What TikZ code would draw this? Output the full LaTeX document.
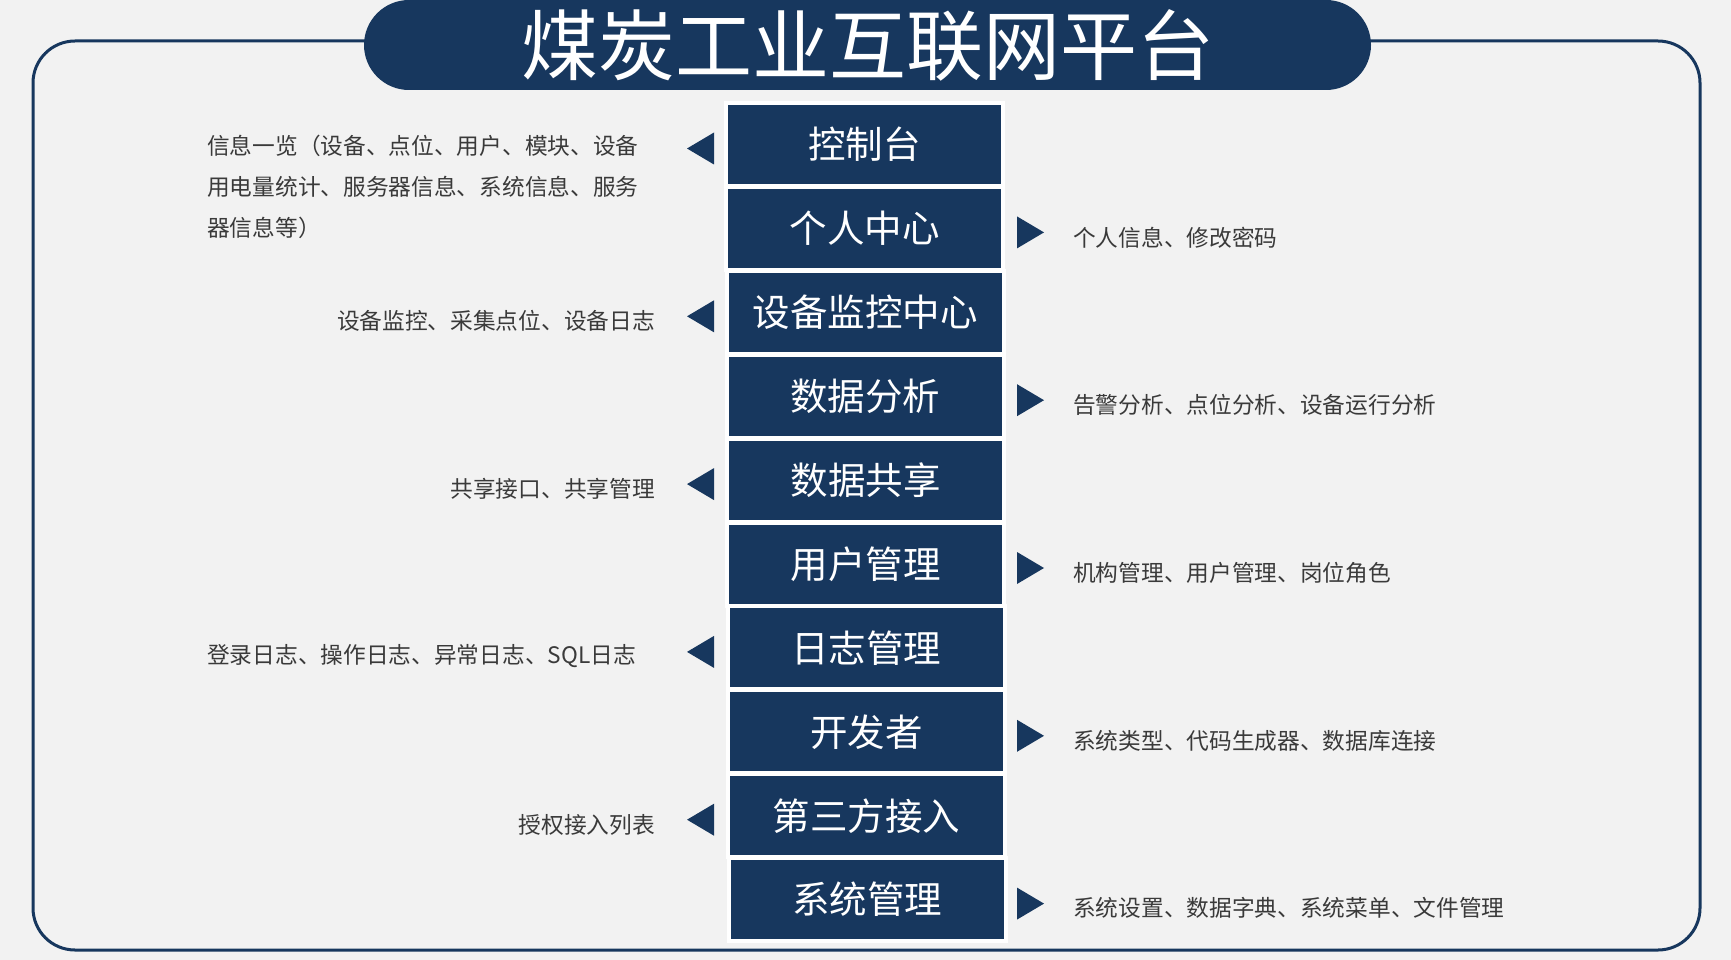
\documentclass[tikz,border=0pt]{standalone}
\usepackage{fontspec}
\setmainfont{Noto Sans CJK SC}
\definecolor{navy}{HTML}{17375E}
\definecolor{paper}{HTML}{F2F2F2}
\definecolor{note}{HTML}{3A3A3A}
\tikzset{
  module/.style={fill=navy, draw=white, line width=4pt, minimum width=277pt,
    minimum height=83pt, inner sep=0pt, text=white, font=\fontsize{37.5}{40}\selectfont},
  detail/.style={text=note, inner sep=0pt, font=\fontsize{22.7}{41}\selectfont},
  pointer/.style={fill=navy},
}
\begin{document}
\begin{tikzpicture}[x=1pt, y=-1pt]
    \fill[paper] (0,0) rectangle (1731,960);
    \useasboundingbox (0,0) rectangle (1731,960);
    \draw[navy, line width=3pt, rounded corners=42pt] (33,41) rectangle (1700,950);
    \node[fill=navy, rounded corners=45pt, minimum width=1007pt, minimum height=90pt,
      inner sep=0pt, text=white, font=\fontsize{77}{80}\selectfont] (title) at (867.5,45) {煤炭工业互联网平台};
    % modules
    \node[module] (m1) at (864.5,144.5) {控制台};
    \node[module] (m2) at (864.8,228.4) {个人中心};
    \node[module] (m3) at (865.1,312.3) {设备监控中心};
    \node[module] (m4) at (865.3,396.2) {数据分析};
    \node[module] (m5) at (865.6,480.1) {数据共享};
    \node[module] (m6) at (865.9,564.0) {用户管理};
    \node[module] (m7) at (866.2,647.9) {日志管理};
    \node[module] (m8) at (866.5,731.8) {开发者};
    \node[module] (m9) at (866.7,815.7) {第三方接入};
    \node[module] (m10) at (867.0,899.6) {系统管理};
    % pointers
    \fill[pointer] (687,148.5) -- (714,132.5) -- (714,164.5) -- cycle;
    \fill[pointer] (1044,232.4) -- (1017,216.4) -- (1017,248.4) -- cycle;
    \fill[pointer] (687,316.3) -- (714,300.3) -- (714,332.3) -- cycle;
    \fill[pointer] (1044,400.2) -- (1017,384.2) -- (1017,416.2) -- cycle;
    \fill[pointer] (687,484.1) -- (714,468.1) -- (714,500.1) -- cycle;
    \fill[pointer] (1044,568.0) -- (1017,552.0) -- (1017,584.0) -- cycle;
    \fill[pointer] (687,651.9) -- (714,635.9) -- (714,667.9) -- cycle;
    \fill[pointer] (1044,735.8) -- (1017,719.8) -- (1017,751.8) -- cycle;
    \fill[pointer] (687,819.7) -- (714,803.7) -- (714,835.7) -- cycle;
    \fill[pointer] (1044,903.6) -- (1017,887.6) -- (1017,919.6) -- cycle;
    % details
    \node[detail, anchor=west, align=left] (d1) at (207,187) {信息一览（设备、点位、用户、模块、设备\\用电量统计、服务器信息、系统信息、服务\\器信息等）};
    \node[detail, anchor=west] (d2) at (1073,237.5) {个人信息、修改密码};
    \node[detail, anchor=east] (d3) at (655,320.5) {设备监控、采集点位、设备日志};
    \node[detail, anchor=west] (d4) at (1073,404.5) {告警分析、点位分析、设备运行分析};
    \node[detail, anchor=east] (d5) at (655,488.5) {共享接口、共享管理};
    \node[detail, anchor=west] (d6) at (1073,572.5) {机构管理、用户管理、岗位角色};
    \node[detail, anchor=west] (d7) at (207,656) {登录日志、操作日志、异常日志、SQL日志};
    \node[detail, anchor=west] (d8) at (1073,740.5) {系统类型、代码生成器、数据库连接};
    \node[detail, anchor=east] (d9) at (655,824.5) {授权接入列表};
    \node[detail, anchor=west] (d10) at (1073,908) {系统设置、数据字典、系统菜单、文件管理};
\end{tikzpicture}
\end{document}
